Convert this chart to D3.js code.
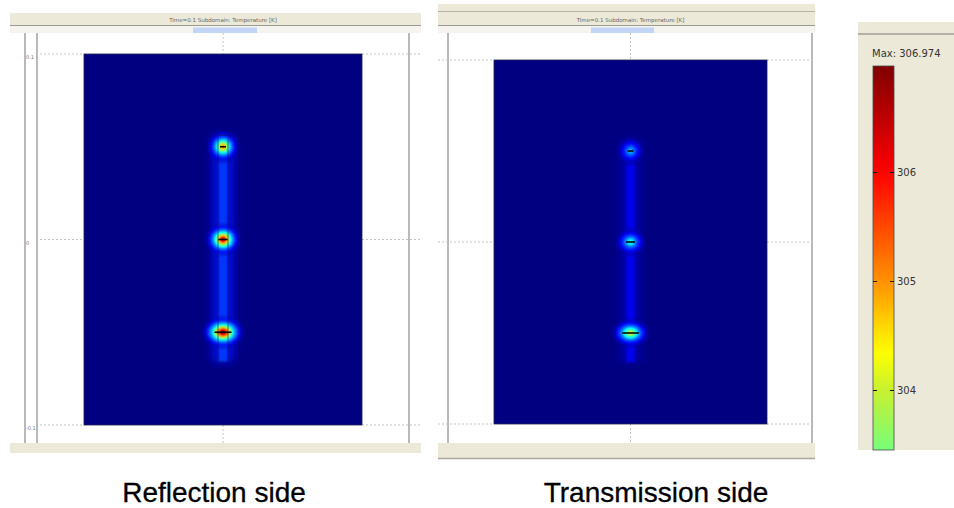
<!DOCTYPE html>
<html>
<head>
<meta charset="utf-8">
<script src="https://cdn.jsdelivr.net/npm/d3@7"></script>
<style>
  body { margin: 0; background: #ffffff; }
  svg { display: block; }
</style>
</head>
<body>
<div class="fondo"></div>
<script>
// data
var panelNames = ['Reflection side', 'Transmission side'];
var panelTitle = 'Time=0.1   Subdomain: Temperature [K]';
var axisTicks = [-0.1, 0, 0.1];
var spotY = [0.05, 0, -0.05];          // heat sources, y in m
var sourceLen = [0.0032, 0.005, 0.0092]; // source length, m
var reflPeak = [305.2, 306.5, 306.974];
var transPeak = [301.8, 302.6, 304.3];
var reflColumnT = 300.6;
var transColumnT = 299.9;
var bgTemp = 299.0;
var tMax = 306.974;
var colorTicks = [304, 305, 306];

// colormap (jet-like, as in the colour bar)
var cmapTemps = [299.0, 300.0, 301.3, 302.3, 303.4, 304.0, 304.35, 305.0, 306.0, 306.974];
var cmapColors = ['#000080', '#0000ff', '#0080ff', '#00ffff', '#70ff80', '#c8f030', '#ffff00', '#ff9000', '#ff0000', '#800000'];

var color = d3.scaleLinear()
  .domain(cmapTemps)
  .range(cmapColors)
  .clamp(true);

var svg = d3.select('.fondo')
  .append('svg')
  .attr('width', 954)
  .attr('height', 508);

var defs = svg.append('defs');

function blur(id, sd) {
  defs.append('filter')
    .attr('id', id)
    .attr('x', '-200%').attr('y', '-20%')
    .attr('width', '500%').attr('height', '140%')
    .append('feGaussianBlur')
    .attr('stdDeviation', sd);
}
blur('blur4', 4);
blur('blur1', 1.2);

var layouts = [
  { left: 10, right: 421, top: 13, doubleTop: false, bottom: 443, bottomH: 10,
    lines: [25, 37, 409], plotX: [84, 362], plotY: [425, 54], gridL: 40, gridR: 420,
    tab: [193, 257], labelX: 214, showTicks: true, outline: true, haloX: 15, haloY: 18 },
  { left: 438, right: 815, top: 4, doubleTop: true, bottom: 443, bottomH: 16,
    lines: [448, 812], plotX: [494, 767], plotY: [424, 60], gridL: 438, gridR: 812,
    tab: [591, 654], labelX: 656, showTicks: false, outline: false, haloX: 13, haloY: 16 }
];

function drawPanel(idx, peaks, columnT) {
  var L = layouts[idx];
  var g = svg.append('g');

  var x = d3.scaleLinear().domain([-0.075, 0.075]).range(L.plotX);
  var y = d3.scaleLinear().domain([-0.1, 0.1]).range(L.plotY);

  // window chrome
  g.append('rect').attr('x', L.left).attr('y', L.top)
    .attr('width', L.right - L.left).attr('height', 25 - L.top)
    .attr('fill', '#ece9d8');
  if (L.doubleTop) {
    g.append('line').attr('x1', L.left).attr('x2', L.right)
      .attr('y1', 11.5).attr('y2', 11.5).attr('stroke', '#b4b2a8');
  }
  g.append('line').attr('x1', L.left).attr('x2', L.right)
    .attr('y1', 25.5).attr('y2', 25.5).attr('stroke', '#9c9a92');
  g.append('rect').attr('x', L.left).attr('y', 26)
    .attr('width', L.right - L.left).attr('height', 7)
    .attr('fill', '#f5f4ef');
  g.append('rect').attr('x', L.tab[0]).attr('y', 27.5)
    .attr('width', L.tab[1] - L.tab[0]).attr('height', 5.5)
    .attr('fill', '#c3d5f5');
  g.append('text')
    .attr('x', x(0)).attr('y', 21.5)
    .attr('text-anchor', 'middle')
    .attr('font-family', 'DejaVu Sans')
    .attr('font-size', 5.5)
    .attr('fill', '#666')
    .text(panelTitle);

  g.append('rect').attr('x', L.left).attr('y', L.bottom)
    .attr('width', L.right - L.left).attr('height', L.bottomH)
    .attr('fill', '#ece9d8');
  if (L.bottomH > 12) {
    g.append('line').attr('x1', L.left).attr('x2', L.right)
      .attr('y1', L.bottom + L.bottomH - 0.5).attr('y2', L.bottom + L.bottomH - 0.5)
      .attr('stroke', '#a6a49c').attr('stroke-width', 1.5);
  }

  L.lines.forEach(function (lx) {
    g.append('line').attr('x1', lx).attr('x2', lx)
      .attr('y1', 33).attr('y2', L.bottom)
      .attr('stroke', '#b9b9b9').attr('stroke-width', 2);
  });

  // dotted grid outside the domain
  var grid = g.append('g')
    .attr('stroke', '#c4c4c4')
    .attr('stroke-dasharray', '2,2');
  axisTicks.forEach(function (t) {
    grid.append('line').attr('x1', L.gridL).attr('x2', L.plotX[0])
      .attr('y1', y(t)).attr('y2', y(t));
    grid.append('line').attr('x1', L.plotX[1]).attr('x2', L.gridR)
      .attr('y1', y(t)).attr('y2', y(t));
  });
  grid.append('line').attr('x1', x(0)).attr('x2', x(0))
    .attr('y1', 33).attr('y2', y(0.1));
  grid.append('line').attr('x1', x(0)).attr('x2', x(0))
    .attr('y1', y(-0.1)).attr('y2', L.bottom);

  if (L.showTicks) {
    g.selectAll('.ticklab')
      .data(axisTicks)
      .enter()
      .append('text')
      .attr('x', 26)
      .attr('y', function (d) { return y(d) + 5; })
      .attr('font-family', 'DejaVu Sans')
      .attr('font-size', 5)
      .attr('fill', '#777')
      .text(function (d) { return d; });
  }

  // temperature field
  g.append('rect')
    .attr('x', x(-0.075)).attr('y', y(0.1))
    .attr('width', x(0.075) - x(-0.075))
    .attr('height', y(-0.1) - y(0.1))
    .attr('fill', color(bgTemp))
    .attr('stroke', '#222250').attr('stroke-width', 0.8);

  var colTop = spotY[0] + 0.006;
  var colBot = spotY[2] - 0.016;
  g.append('rect')
    .attr('x', x(-0.006)).attr('y', y(colTop))
    .attr('width', x(0.006) - x(-0.006))
    .attr('height', y(colBot) - y(colTop))
    .attr('fill', color(columnT - 0.5))
    .attr('opacity', 0.75)
    .attr('filter', 'url(#blur4)');
  g.append('rect')
    .attr('x', x(-0.0025)).attr('y', y(colTop))
    .attr('width', x(0.0025) - x(-0.0025))
    .attr('height', y(colBot) - y(colTop))
    .attr('fill', color(columnT))
    .attr('opacity', 0.9)
    .attr('filter', 'url(#blur1)');

  // hot spots
  spotY.forEach(function (sy, i) {
    var gid = 'spot' + idx + '_' + i;
    var grad = defs.append('radialGradient').attr('id', gid);
    d3.range(0, 1.001, 0.1).forEach(function (o) {
      var t = bgTemp + (peaks[i] - bgTemp) * Math.exp(-3.4 * Math.pow(o, 1.6));
      grad.append('stop')
        .attr('offset', o)
        .attr('stop-color', color(t))
        .attr('stop-opacity', o < 0.6 ? 1 : (1 - o) / 0.4);
    });
    var half = (x(sourceLen[i] / 2) - x(0));
    g.append('ellipse')
      .attr('cx', x(0)).attr('cy', y(sy))
      .attr('rx', half + L.haloX)
      .attr('ry', L.haloY)
      .attr('fill', 'url(#' + gid + ')');
  });

  if (L.outline) {
    g.append('rect')
      .attr('x', x(-0.0027)).attr('y', y(colTop))
      .attr('width', x(0.0027) - x(-0.0027))
      .attr('height', y(colBot) - y(colTop))
      .attr('fill', 'none')
      .attr('stroke', '#14145a').attr('stroke-width', 0.6);
  }

  g.selectAll('.source')
    .data(spotY)
    .enter()
    .append('line')
    .attr('x1', function (d, i) { return x(-sourceLen[i] / 2); })
    .attr('x2', function (d, i) { return x(sourceLen[i] / 2); })
    .attr('y1', function (d) { return y(d); })
    .attr('y2', function (d) { return y(d); })
    .attr('stroke', '#000')
    .attr('stroke-width', 1.6);

  svg.append('text')
    .attr('x', L.labelX).attr('y', 502)
    .attr('text-anchor', 'middle')
    .attr('font-family', 'Liberation Sans, Arial, sans-serif')
    .attr('font-size', 28)
    .attr('fill', '#000')
    .attr('stroke', '#000')
    .attr('stroke-width', 0.3)
    .text(panelNames[idx]);
}

drawPanel(0, reflPeak, reflColumnT);
drawPanel(1, transPeak, transColumnT);

// colour bar
var cb = svg.append('g');
cb.append('rect').attr('x', 858).attr('y', 22)
  .attr('width', 96).attr('height', 428)
  .attr('fill', '#ece9d8');
cb.append('line').attr('x1', 858).attr('x2', 954)
  .attr('y1', 34).attr('y2', 34)
  .attr('stroke', '#b2b0a8').attr('stroke-width', 2);

var cbY = d3.scaleLinear().domain([304, tMax]).range([390, 66]);
var tLow = cbY.invert(450);

var lg = defs.append('linearGradient')
  .attr('id', 'cbar')
  .attr('gradientUnits', 'userSpaceOnUse')
  .attr('x1', 0).attr('x2', 0)
  .attr('y1', cbY(tMax)).attr('y2', 450);
d3.range(0, 1.0001, 0.05).forEach(function (o) {
  var t = tMax - o * (tMax - tLow);
  lg.append('stop').attr('offset', o).attr('stop-color', color(t));
});

cb.append('rect')
  .attr('x', 873).attr('y', cbY(tMax))
  .attr('width', 21).attr('height', 450 - cbY(tMax))
  .attr('fill', 'url(#cbar)')
  .attr('stroke', '#4a4a4a').attr('stroke-width', 0.8);

cb.selectAll('.tk')
  .data(colorTicks)
  .enter()
  .append('path')
  .attr('d', function (d) {
    var ty = Math.round(cbY(d)) + 0.5;
    return 'M873,' + ty + 'H877M890,' + ty + 'H894';
  })
  .attr('stroke', '#111');

cb.selectAll('.tl')
  .data(colorTicks)
  .enter()
  .append('text')
  .attr('x', 897)
  .attr('y', function (d) { return cbY(d) + 3.5; })
  .attr('font-family', 'DejaVu Sans')
  .attr('font-size', 10)
  .attr('fill', '#333')
  .text(function (d) { return d; });

cb.append('text')
  .attr('x', 872).attr('y', 57)
  .attr('font-family', 'DejaVu Sans')
  .attr('font-size', 10)
  .attr('fill', '#333')
  .text('Max: ' + tMax);
</script>
</body>
</html>
